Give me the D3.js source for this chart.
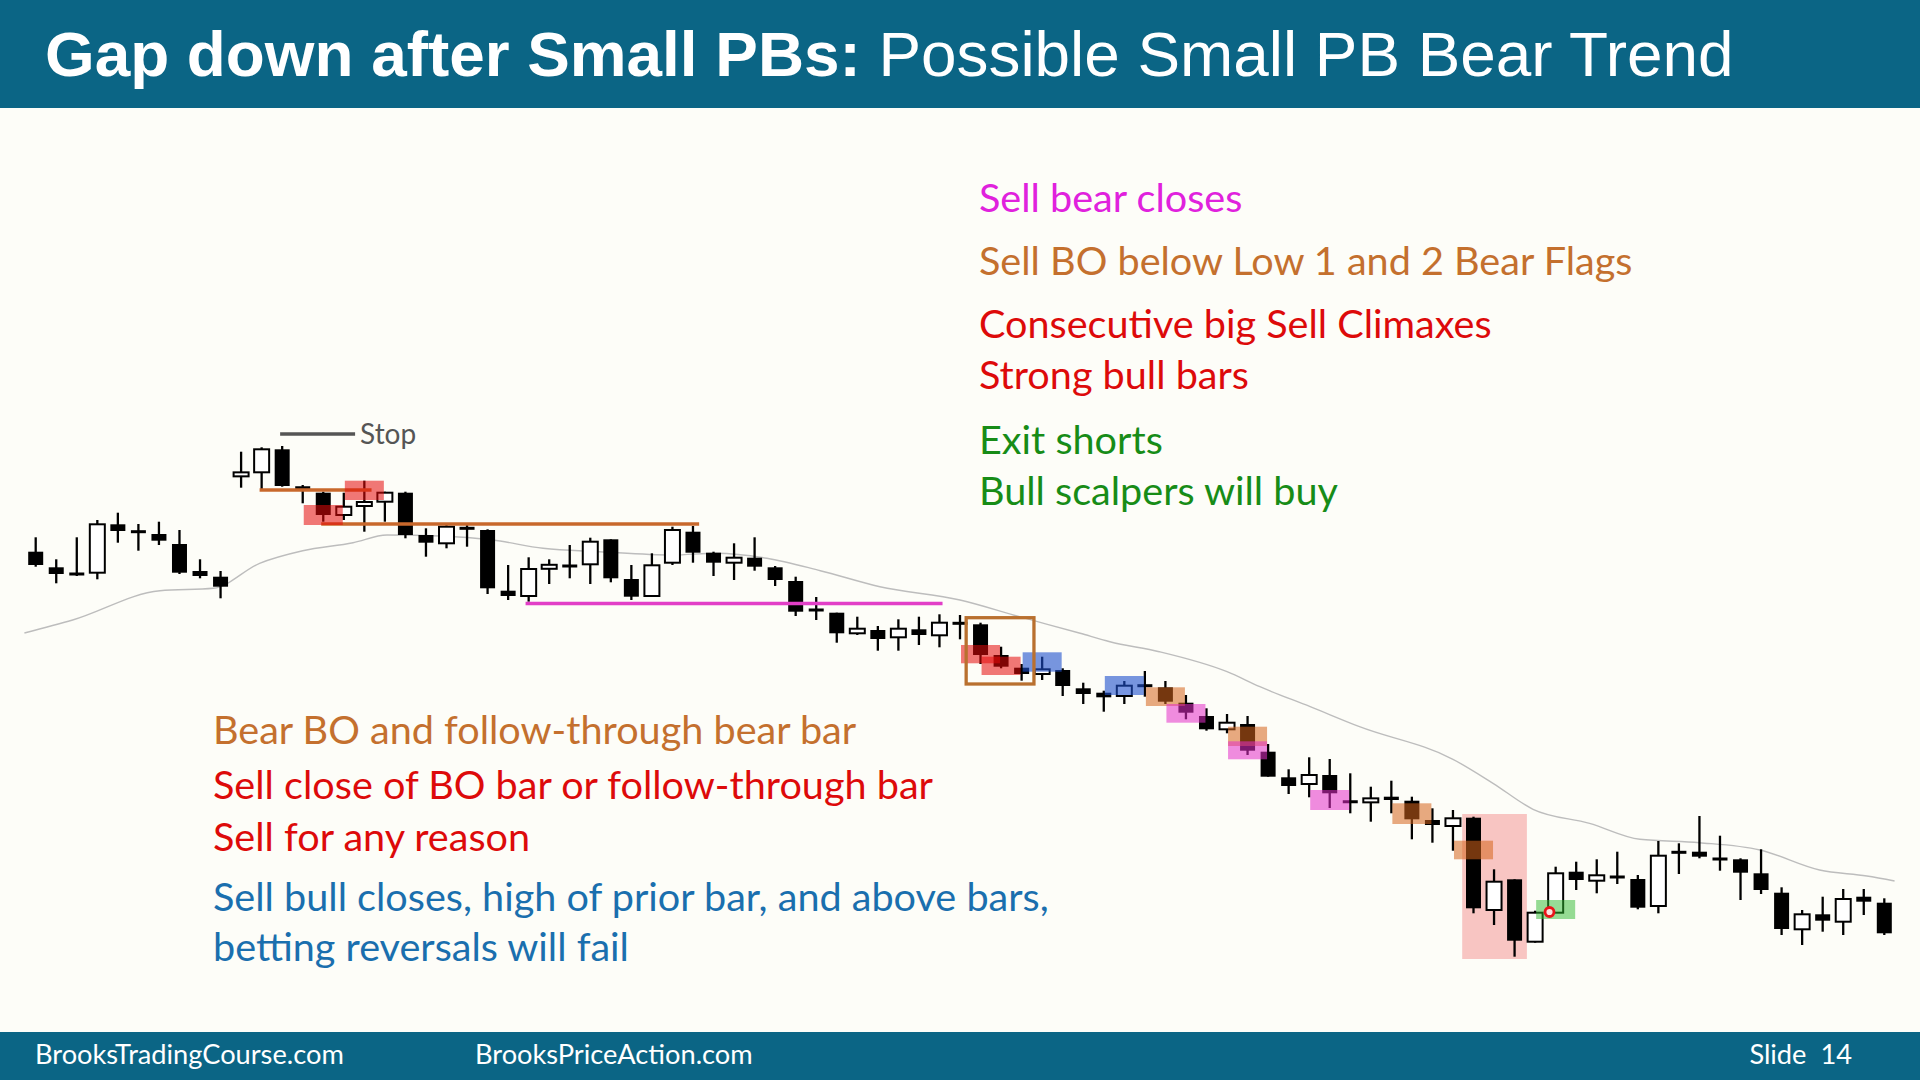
<!DOCTYPE html>
<html>
<head>
<meta charset="utf-8">
<script src="https://cdn.jsdelivr.net/npm/d3@7"></script>
<style>
  html, body { margin: 0; padding: 0; background: #fdfdf8; }
  svg { display: block; }
</style>
</head>
<body>
<svg id="chart" width="1920" height="1080"></svg>
<script>
// ---- bar data (price points, bar index 0..90) ----
const opens = [448.3,432.7,426,427.3,475.7,468.3,466,456,429,423.3,
  524,527.7,550.7,513,507.3,485,494.7,498.3,507.3,465,
  456.7,471.7,470,409.3,404,431.7,434,435.7,460.7,421,
  404,437.3,468.3,447.3,437.3,442.3,432.7,419,390.5,387.3,
  366.7,370,362.7,370.7,364.7,376.7,375.7,345,332.3,326,
  330,311.7,307.3,304,314.3,312.7,297.3,284,270.7,276,
  248.3,222.7,216,225,199,198,203.3,199.3,180,174,
  182.3,90,120.7,58.3,87.3,128.3,119.3,123,121,94,
  147.7,148.3,141,140.7,126.7,107.3,70.7,85.7,78.3,103.3,97.3];
const highs = [462.7,440.7,462.7,480,487.3,476,478.3,470,440.7,429,
  548.3,552.7,554,515,508.3,507.3,519.3,508.3,508.3,471.7,
  476,475,470.7,435,442.7,440.7,455,462.3,460.7,435,
  446.7,473.3,474,448.3,456.7,462.7,434,423.3,403,387.3,
  383.3,374,380.7,383.3,385.7,385,377.3,353.3,336,343.3,
  331.7,317.3,309.3,319,329,319,305,291.7,286,284,
  256,230.7,242.7,241,226.7,213.3,219.3,203.3,191.7,190,
  183.3,130.7,120.7,89.3,133.3,138.3,140.7,148.3,125,159,
  156.7,184,164.3,141.7,150.7,112.7,90,103.3,111,111,101.7];
const lows = [433.3,416.7,424,420.7,457.3,449.3,455,426,421.7,401.7,
  512.3,510,513.3,496.7,478.3,480,468.3,478.3,461.7,443.3,
  451.7,453.3,406,400,398.3,416,421.7,416,417.7,400,
  403.3,435,437.3,424,420,429.3,414,384,380,357.3,
  365,349.3,349.3,355,352.7,360.7,336,331.7,319.3,320,
  304,296,288.3,296,303.3,296,280.7,269.3,266.7,245,
  223.3,206,202.7,192,186.7,178.3,186.7,160.7,157.3,149.3,
  86.7,75,43.3,57.3,87.3,110,106.7,116,90.7,86.7,
  126,141.7,129.3,100,106,65,55,68.3,65,85,65];
const closes = [435,426,426,475.7,469,468.3,459.3,427.3,424,413.3,
  527.3,550.7,514,511.5,485,493.3,497.3,507.3,465,457.3,
  473.3,471.7,411.7,404,431,434.7,434,458.3,421.7,403.3,
  434.7,470,447.3,437.3,442.3,433.3,420,388.3,389.5,366.7,
  371.3,361,371.3,365,377.3,376.7,345,333.3,326,330.7,
  314,306,302.7,314.3,314.3,298.3,287.3,270.7,277.3,249.3,
  223.3,214,225,206.7,197.5,201.3,200,180.7,175,181.7,
  91.7,118.3,59.3,87.3,126.7,120,124.7,123,92.3,144.3,
  147.7,143.3,141,127.3,110,71,85.7,79.3,101,98.3,66.7];

// moving average, read as (bar index, price) points
const emaIndex = [-0.55,1.8,6.05,8.65,10.9,13.0,15.45,17.1,19.7,22.25,
  24.7,27.45,31.0,33.15,35.6,38.2,41.1,45.0,47.9,50.85,
  52.3,54.7,58.0,59.6,62.05,64.45,69.0,70.95,72.9,75.65,
  78.1,81.0,83.95,86.85,89.15,90.5];
const emaValue = [367,380,409.3,411.7,436.7,449.3,457.3,465,464,460,
  451.7,448.3,445,446.7,441.7,429.3,413.3,400,383.3,366.7,
  358.3,348.3,328.3,313.3,293.3,273.3,240.7,216.7,190.7,176.7,
  160.7,157.3,150,130,124,119];

// highlighted bars: bar index, low and high of the box, kind
const marks = [
  {bar: 14, lo: 475, hi: 495, kind: 'red'},
  {bar: 16, lo: 500, hi: 519.3, kind: 'red'},
  {bar: 46, lo: 336.7, hi: 355, kind: 'red'},
  {bar: 47, lo: 325, hi: 343.3, kind: 'red'},
  {bar: 49, lo: 328.3, hi: 347.7, kind: 'blue'},
  {bar: 53, lo: 305, hi: 324, kind: 'blue'},
  {bar: 55, lo: 294, hi: 312.7, kind: 'tan'},
  {bar: 56, lo: 277.3, hi: 296, kind: 'magenta'},
  {bar: 59, lo: 254, hi: 273.3, kind: 'tan'},
  {bar: 59, lo: 240.7, hi: 258.7, kind: 'magenta'},
  {bar: 63, lo: 190, hi: 210, kind: 'magenta'},
  {bar: 67, lo: 176, hi: 196.7, kind: 'tan'},
  {bar: 70, lo: 140.7, hi: 159.3, kind: 'tan'},
  {bar: 74, lo: 81, hi: 100, kind: 'green'}
];
// sell climax zone
const climaxZone = {from: 69.45, to: 72.6, lo: 41, hi: 186};

// price levels drawn as lines: from bar, to bar, price
const levels = [
  {from: 10.9, to: 16.35, price: 510, kind: 'orange'},
  {from: 13.9, to: 32.3, price: 476, kind: 'orange'},
  {from: 23.85, to: 44.15, price: 396.5, kind: 'pink'},
  {from: 11.9, to: 15.55, price: 566, kind: 'stop'}
];
const boBox = {from: 45.3, to: 48.6, lo: 316, hi: 382.3};
const entryDot = {bar: 73.7, price: 88};

const rightNotes = [
  {text: 'Sell bear closes', kind: 'magenta', y: 212},
  {text: 'Sell BO below Low 1 and 2 Bear Flags', kind: 'brown', y: 275},
  {text: 'Consecutive big Sell Climaxes', kind: 'red', y: 338},
  {text: 'Strong bull bars', kind: 'red', y: 389},
  {text: 'Exit shorts', kind: 'green', y: 454},
  {text: 'Bull scalpers will buy', kind: 'green', y: 505}
];
const leftNotes = [
  {text: 'Bear BO and follow-through bear bar', kind: 'brown', y: 744},
  {text: 'Sell close of BO bar or follow-through bar', kind: 'red', y: 799},
  {text: 'Sell for any reason', kind: 'red', y: 851},
  {text: 'Sell bull closes, high of prior bar, and above bars,', kind: 'blue', y: 911},
  {text: 'betting reversals will fail', kind: 'blue', y: 961}
];

// ---- styles ----
const textColor = {magenta: '#e021dd', brown: '#c4702e', red: '#dd0a0a', green: '#178c17', blue: '#1a6fae'};
const markFill = {
  red: 'rgba(230,10,10,0.55)',
  blue: 'rgba(30,80,205,0.6)',
  tan: 'rgba(213,100,27,0.55)',
  magenta: 'rgba(227,45,200,0.55)',
  green: 'rgba(45,185,45,0.5)'
};
const levelColor = {orange: '#c8682c', pink: '#e23fc7', stop: '#555555'};

const W = 1920, H = 1080;
const svg = d3.select('#chart');
const textFont = 'Lato, "Open Sans", sans-serif';

svg.append('rect').attr('width', W).attr('height', H).attr('fill', '#fdfdf8');

// scales
const x = d3.scaleLinear().domain([0, 90]).range([35.7, 1884.3]);
const y = d3.scaleLinear().domain([0, 600]).range([1000, 400]);
const step = x(1) - x(0);
const bodyW = 15;
const markW = step * 1.9;

const plot = svg.append('g');

// climax zone sits under the bars
plot.append('rect')
  .attr('x', x(climaxZone.from))
  .attr('y', y(climaxZone.hi))
  .attr('width', x(climaxZone.to) - x(climaxZone.from))
  .attr('height', y(climaxZone.lo) - y(climaxZone.hi))
  .attr('fill', 'rgba(240,120,120,0.42)');

// moving average
const ema = emaIndex.map((d, i) => [d, emaValue[i]]);
plot.append('path')
  .datum(ema)
  .attr('d', d3.line().x(d => x(d[0])).y(d => y(d[1])).curve(d3.curveMonotoneX))
  .attr('fill', 'none')
  .attr('stroke', '#bdbdbd')
  .attr('stroke-width', 1.4);

// candles
const bars = opens.map((o, i) => ({i, o, h: highs[i], l: lows[i], c: closes[i]}));
const candle = plot.selectAll('.candle')
  .data(bars)
  .enter()
  .append('g')
  .attr('class', 'candle');

candle.append('line')
  .attr('x1', d => x(d.i))
  .attr('x2', d => x(d.i))
  .attr('y1', d => y(d.h))
  .attr('y2', d => y(d.l))
  .attr('stroke', '#000')
  .attr('stroke-width', 2.3);

candle.append('rect')
  .attr('x', d => x(d.i) - bodyW / 2)
  .attr('width', bodyW)
  .attr('y', d => {
    const top = y(Math.max(d.o, d.c));
    const hgt = Math.abs(y(d.o) - y(d.c));
    const minH = d.c > d.o ? 4 : 3;
    return hgt < minH ? top - (minH - hgt) / 2 : top;
  })
  .attr('height', d => Math.max(Math.abs(y(d.o) - y(d.c)), d.c > d.o ? 4 : 3))
  .attr('fill', d => d.c > d.o ? '#fff' : '#000')
  .attr('stroke', '#000')
  .attr('stroke-width', d => d.c > d.o ? 2 : 0);

// level lines
plot.selectAll('.level')
  .data(levels)
  .enter()
  .append('line')
  .attr('x1', d => x(d.from))
  .attr('x2', d => x(d.to))
  .attr('y1', d => y(d.price))
  .attr('y2', d => y(d.price))
  .attr('stroke', d => levelColor[d.kind])
  .attr('stroke-width', 3.6);

// highlight boxes over the bars
plot.selectAll('.mark')
  .data(marks)
  .enter()
  .append('rect')
  .attr('x', d => x(d.bar) - markW / 2)
  .attr('width', markW)
  .attr('y', d => y(d.hi))
  .attr('height', d => y(d.lo) - y(d.hi))
  .attr('fill', d => markFill[d.kind]);

// breakout box
plot.append('rect')
  .attr('x', x(boBox.from))
  .attr('y', y(boBox.hi))
  .attr('width', x(boBox.to) - x(boBox.from))
  .attr('height', y(boBox.lo) - y(boBox.hi))
  .attr('fill', 'none')
  .attr('stroke', '#b9702f')
  .attr('stroke-width', 3.3);

// entry dot
plot.append('circle')
  .attr('cx', x(entryDot.bar))
  .attr('cy', y(entryDot.price))
  .attr('r', 4.5)
  .attr('fill', '#fbe0e0')
  .attr('stroke', '#e8141a')
  .attr('stroke-width', 2.8);

// "Stop" label at the end of the stop line
const stop = levels.find(d => d.kind === 'stop');
plot.append('text')
  .attr('x', x(stop.to) + 5)
  .attr('y', y(stop.price))
  .attr('dy', '0.35em')
  .attr('font-family', textFont)
  .attr('font-size', 28)
  .attr('fill', '#555555')
  .text('Stop');

// ---- header and footer bands ----
svg.append('rect').attr('width', W).attr('height', 108).attr('fill', '#0b6585');
svg.append('rect').attr('y', 1032).attr('width', W).attr('height', 48).attr('fill', '#0b6585');

const title = svg.append('text')
  .attr('x', 45)
  .attr('y', 76)
  .attr('font-family', '"Liberation Sans", Arial, sans-serif')
  .attr('font-size', 58)
  .attr('fill', '#fff');
title.append('tspan').attr('font-weight', 'bold').text('Gap down after Small PBs: ');
title.append('tspan').text('Possible Small PB Bear Trend');

function fitTo(sel, width) {
  const w = sel.node().getComputedTextLength();
  const fs = parseFloat(sel.attr('font-size'));
  sel.attr('font-size', fs * width / w);
  return fs * width / w;
}
fitTo(title, 1689);

// ---- notes ----
function drawNotes(list, x0) {
  return svg.append('g').selectAll('text')
    .data(list)
    .enter()
    .append('text')
    .attr('x', x0)
    .attr('y', d => d.y)
    .attr('font-family', textFont)
    .attr('font-size', 36)
    .attr('fill', d => textColor[d.kind])
    .text(d => d.text);
}
const rightText = drawNotes(rightNotes, 979);
const leftText = drawNotes(leftNotes, 213);
const longest = leftText.filter(d => d.text.startsWith('Sell bull'));
const noteSize = fitTo(longest, 836);
rightText.attr('font-size', noteSize);
leftText.attr('font-size', noteSize);

// footer texts
const foot = svg.append('g')
  .attr('font-family', textFont)
  .attr('fill', '#fff');
const f1 = foot.append('text').attr('x', 35).attr('y', 1064).attr('font-size', 24).text('BrooksTradingCourse.com');
const footSize = fitTo(f1, 309);
foot.append('text').attr('x', 475).attr('y', 1064).attr('font-size', footSize).text('BrooksPriceAction.com');
foot.append('text').attr('x', 1852).attr('y', 1064).attr('text-anchor', 'end')
  .attr('font-size', footSize).style('white-space', 'pre').text('Slide  14');
</script>
</body>
</html>
